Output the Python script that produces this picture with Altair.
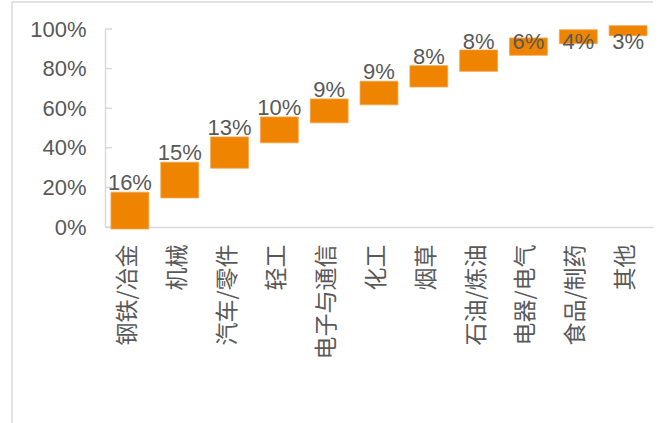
import altair as alt
import pandas as pd

categories = ["钢铁/冶金", "机械", "汽车/零件", "轻工", "电子与通信", "化工", "烟草",
              "石油/炼油", "电器/电气", "食品/制药", "其他"]
share_labels = ["16%", "15%", "13%", "10%", "9%", "9%", "8%", "8%", "6%", "4%", "3%"]
bar_start = [-1.0, 14.7, 29.7, 42.5, 52.6, 61.7, 70.7, 78.6, 86.7, 92.6, 96.6]
bar_end = [17.6, 32.7, 45.5, 55.6, 64.7, 73.6, 81.5, 89.4, 95.5, 99.6, 101.7]
y_ticks = [0, 20, 40, 60, 80, 100]

df = pd.DataFrame({"cat": categories, "label": share_labels,
                   "start": bar_start, "end": bar_end})
ticks_df = pd.DataFrame({"v": y_ticks})

GRAY = "#D9D9D9"
TXT = "#595959"
ORANGE = "#EF8400"

xaxis = alt.Axis(labelAngle=-90, labelFont="Noto Sans CJK SC",
                 labelFontSize=23, labelColor=TXT, ticks=False,
                 domainColor=GRAY, domainWidth=1.5, labelPadding=17,
                 labelAlign="right", labelBaseline="middle", labelOffset=-2,
                 labelOverlap=False, title=None)
xscale = alt.Scale(paddingInner=0.24, paddingOuter=0.12)
yaxis = alt.Axis(values=y_ticks, labelExpr="datum.value + '%'",
                 labelFont="Liberation Sans", labelFontSize=22,
                 labelColor=TXT, ticks=False, grid=False,
                 labelOverlap=False, labelFlush=False, title=None,
                 domainColor=GRAY, domainWidth=1.5, labelPadding=19)
yscale = alt.Scale(domain=[0, 100], nice=False)

bars = alt.Chart(df).mark_bar(color=ORANGE, stroke="#F5A54A", strokeWidth=0.8,
                               clip=False).encode(
    x=alt.X("cat:N", sort=categories, scale=xscale, axis=xaxis),
    y=alt.Y("start:Q", scale=yscale, axis=yaxis),
    y2="end:Q",
)

labels = alt.Chart(df).transform_calculate(
    anchor="min(datum.end, 89)"
).mark_text(font="Liberation Sans", fontSize=22, color=TXT,
            baseline="alphabetic", dy=-2).encode(
    x=alt.X("cat:N", sort=categories, scale=xscale, axis=xaxis),
    y=alt.Y("anchor:Q", scale=yscale, axis=yaxis),
    text="label:N",
)

inner_ticks = alt.Chart(ticks_df).mark_rule(color=GRAY, strokeWidth=1.5).encode(
    y=alt.Y("v:Q", scale=yscale, axis=yaxis),
    x=alt.value(0), x2=alt.value(7),
)

border_left = alt.Chart(ticks_df.head(1)).mark_rule(color=GRAY, strokeWidth=1.5).encode(
    x=alt.value(-93), y=alt.value(-27), y2=alt.value(420))
border_top = alt.Chart(ticks_df.head(1)).mark_rule(color=GRAY, strokeWidth=1.5).encode(
    x=alt.value(-93), x2=alt.value(548), y=alt.value(-27))

chart = alt.layer(border_left, border_top, inner_ticks, bars, labels).properties(
    width=548, height=198,
    autosize=alt.AutoSizeParams(type="none"),
    padding={"left": 105, "top": 29, "right": 11, "bottom": 196},
    background="white",
).configure_view(stroke=None)

chart.save("out.html", embed_options={"renderer": "svg", "actions": False})
